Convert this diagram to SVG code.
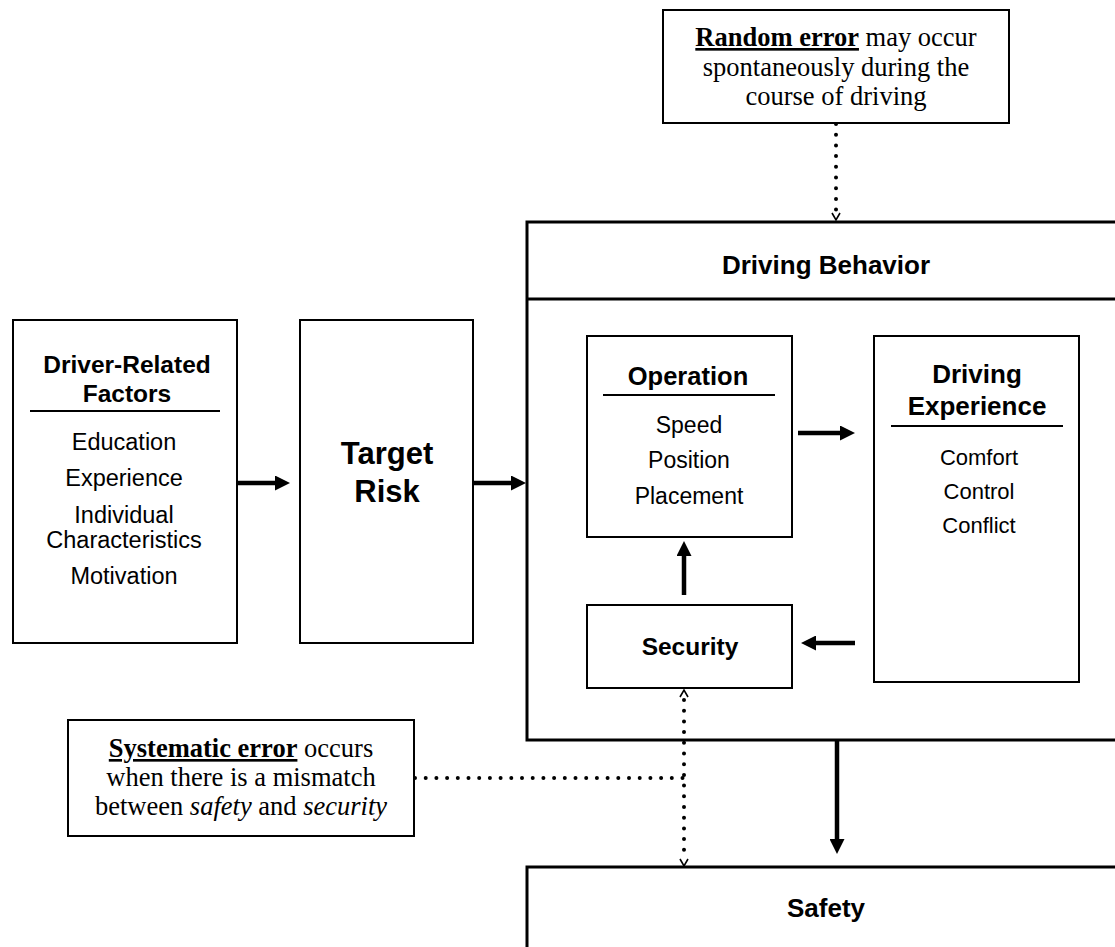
<svg xmlns="http://www.w3.org/2000/svg" width="1115" height="947" viewBox="0 0 1115 947">
<style>
.box{fill:#fff;stroke:#000;stroke-width:2}
.bbox{fill:#fff;stroke:#000;stroke-width:3}
.sans{font-family:"Liberation Sans",Arial,sans-serif;fill:#000;text-anchor:middle}
.serif{font-family:"Liberation Serif","Times New Roman",serif;fill:#000;text-anchor:middle;font-size:26.5px}
.b{font-weight:bold}
.arr{stroke:#000;stroke-width:4.5;fill:none}
.dot{stroke:#000;stroke-width:4;stroke-linecap:round;stroke-dasharray:0 10.7;fill:none}
.chev{stroke:#000;stroke-width:1.6;fill:none}
.rule{stroke:#000;stroke-width:2}
</style>
<defs>
<marker id="ah" markerWidth="15" markerHeight="15" refX="1" refY="7.5" orient="auto" markerUnits="userSpaceOnUse" viewBox="0 0 15 15">
<path d="M0,0 L15,7.5 L0,15 Z" fill="#000"/>
</marker>
</defs>
<rect width="1115" height="947" fill="#fff"/>

<g id="random-error">
<rect class="box" x="663" y="10" width="346" height="113"/>
<text class="serif" x="836" y="46"><tspan font-weight="bold" text-decoration="underline">Random error</tspan> may occur</text>
<text class="serif" x="836" y="76">spontaneously during the</text>
<text class="serif" x="836" y="105">course of driving</text>
</g>

<g id="driving-behavior">
<rect class="bbox" x="527" y="222" width="600" height="518"/>
<line x1="527" y1="299" x2="1115" y2="299" stroke="#000" stroke-width="3"/>
<text class="sans b" x="826" y="274" font-size="26">Driving Behavior</text>
</g>

<g id="driver-factors">
<rect class="box" x="13" y="320" width="224" height="323"/>
<text class="sans b" x="127" y="373" font-size="24.5">Driver-Related</text>
<text class="sans b" x="127" y="402" font-size="24.5">Factors</text>
<line class="rule" x1="30" y1="411" x2="220" y2="411"/>
<text class="sans" x="124" y="450" font-size="23.5">Education</text>
<text class="sans" x="124" y="486" font-size="23.5">Experience</text>
<text class="sans" x="124" y="523" font-size="23.5">Individual</text>
<text class="sans" x="124" y="548" font-size="23.5">Characteristics</text>
<text class="sans" x="124" y="584" font-size="23.5">Motivation</text>
</g>

<g id="target-risk">
<rect class="box" x="300" y="320" width="173" height="323"/>
<text class="sans b" x="387" y="464" font-size="31">Target</text>
<text class="sans b" x="387" y="502" font-size="31">Risk</text>
</g>

<g id="operation">
<rect class="box" x="587" y="336" width="205" height="201"/>
<text class="sans b" x="688" y="385" font-size="25.5">Operation</text>
<line class="rule" x1="603" y1="395" x2="775" y2="395"/>
<text class="sans" x="689" y="433" font-size="23">Speed</text>
<text class="sans" x="689" y="468" font-size="23">Position</text>
<text class="sans" x="689" y="504" font-size="23">Placement</text>
</g>

<g id="security">
<rect class="box" x="587" y="605" width="205" height="83"/>
<text class="sans b" x="690" y="655" font-size="24.5">Security</text>
</g>

<g id="driving-experience">
<rect class="box" x="874" y="336" width="205" height="346"/>
<text class="sans b" x="977" y="383" font-size="26">Driving</text>
<text class="sans b" x="977" y="415" font-size="26">Experience</text>
<line class="rule" x1="891" y1="426" x2="1063" y2="426"/>
<text class="sans" x="979" y="465" font-size="22">Comfort</text>
<text class="sans" x="979" y="499" font-size="22">Control</text>
<text class="sans" x="979" y="533" font-size="22">Conflict</text>
</g>

<g id="systematic-error">
<rect class="box" x="68" y="720" width="346" height="116"/>
<text class="serif" x="241" y="757"><tspan font-weight="bold" text-decoration="underline">Systematic error</tspan> occurs</text>
<text class="serif" x="241" y="786">when there is a mismatch</text>
<text class="serif" x="241" y="815">between <tspan font-style="italic">safety</tspan> and <tspan font-style="italic">security</tspan></text>
</g>

<g id="safety">
<rect class="bbox" x="527" y="867" width="600" height="100"/>
<text class="sans b" x="826" y="917" font-size="26">Safety</text>
</g>

<g id="connectors">
<line class="arr" x1="237" y1="483" x2="276" y2="483" marker-end="url(#ah)"/>
<line class="arr" x1="473" y1="483" x2="512" y2="483" marker-end="url(#ah)"/>
<line class="arr" x1="798" y1="433" x2="841" y2="433" marker-end="url(#ah)"/>
<line class="arr" x1="855" y1="643" x2="815" y2="643" marker-end="url(#ah)"/>
<line class="arr" x1="684" y1="595" x2="684" y2="555" marker-end="url(#ah)"/>
<line class="arr" x1="837" y1="740" x2="837" y2="840" marker-end="url(#ah)"/>
<line class="dot" x1="836" y1="124" x2="836" y2="212"/>
<path class="chev" d="M832,213 L836,220 L840,213"/>
<line class="dot" x1="684" y1="700" x2="684" y2="860"/>
<path class="chev" d="M680,697 L684,690 L688,697"/>
<path class="chev" d="M680,859 L684,866 L688,859"/>
<line class="dot" x1="415" y1="778" x2="684" y2="778"/>
</g>
</svg>
